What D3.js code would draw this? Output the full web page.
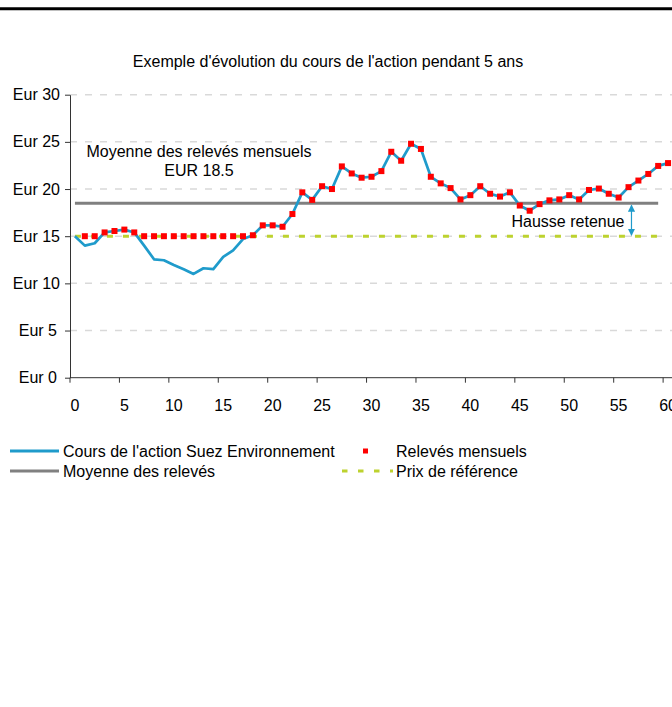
<!DOCTYPE html>
<html>
<head>
<meta charset="utf-8">
<script src="https://cdn.jsdelivr.net/npm/d3@7"></script>
<style>
  body { margin: 0; background: #fff; }
  svg { display: block; font-family: "Liberation Sans", Arial, sans-serif; }
</style>
</head>
<body>
<svg id="chart"></svg>
<script>
// cours de l'action, mois 0..60
const cours = [15.0, 14.0, 14.25, 15.4, 15.55, 15.7, 15.4, 14.0, 12.55, 12.45,
  11.95, 11.5, 11.0, 11.6, 11.5, 12.8, 13.5, 14.7, 15.1, 16.15,
  16.15, 16.0, 17.35, 19.65, 18.85, 20.3, 20.0, 22.4, 21.65, 21.2,
  21.3, 21.9, 23.95, 23.0, 24.8, 24.25, 21.3, 20.6, 20.1, 18.9,
  19.35, 20.3, 19.5, 19.2, 19.65, 18.25, 17.7, 18.4, 18.8, 18.9,
  19.35, 18.9, 19.9, 20.05, 19.5, 19.1, 20.2, 20.9, 21.6, 22.45, 22.75];

// relevés mensuels, mois 1..60
const releves = [15.0, 15.0, 15.4, 15.55, 15.7, 15.4, 15.0, 15.0, 15.0, 15.0,
  15.0, 15.0, 15.0, 15.0, 15.0, 15.0, 15.0, 15.1, 16.15, 16.15,
  16.0, 17.35, 19.65, 18.85, 20.3, 20.0, 22.4, 21.65, 21.2, 21.3,
  21.9, 23.95, 23.0, 24.8, 24.25, 21.3, 20.6, 20.1, 18.9, 19.35,
  20.3, 19.5, 19.2, 19.65, 18.25, 17.7, 18.4, 18.8, 18.9, 19.35,
  18.9, 19.9, 20.05, 19.5, 19.1, 20.2, 20.9, 21.6, 22.45, 22.75];

const moyenne = 18.5;
const prixReference = 15;
const moisLignes = d3.range(0, 60); // moyenne & prix de référence
const yTicks = [0, 5, 10, 15, 20, 25, 30];
const xLabels = d3.range(0, 61, 5);

const width = 672, height = 707;
const svg = d3.select("#chart").attr("width", width).attr("height", height);

const x = d3.scaleBand().domain(d3.range(0, 61)).range([70, 673]).padding(0);
const cx = i => x(i) + x.bandwidth() / 2;
const y = d3.scaleLinear().domain([0, 30]).range([377.7, 94.7]);

// top rule
svg.append("line")
  .attr("x1", 0).attr("x2", width).attr("y1", 8.8).attr("y2", 8.8)
  .attr("stroke", "#000").attr("stroke-width", 3);

svg.append("text")
  .attr("x", 328).attr("y", 61).attr("dy", "0.35em")
  .attr("text-anchor", "middle").attr("font-size", 16)
  .text("Exemple d'évolution du cours de l'action pendant 5 ans");

// gridlines
svg.append("g").selectAll("line")
  .data(yTicks.filter(d => d > 0))
  .join("line")
  .attr("x1", 70).attr("x2", width)
  .attr("y1", d => y(d)).attr("y2", d => y(d))
  .attr("stroke", "#d9d9d9").attr("stroke-width", 1.5)
  .attr("stroke-dasharray", "7,8");

// y axis
const yAxis = svg.append("g")
  .attr("transform", "translate(70,0)")
  .call(d3.axisLeft(y).tickValues(yTicks).tickFormat(d => "Eur " + d)
    .tickSizeInner(5).tickSizeOuter(0).tickPadding(5));
yAxis.select(".domain").attr("stroke", "#333");
yAxis.selectAll(".tick line").attr("stroke", "#333");
yAxis.selectAll("text").attr("font-size", 16).attr("fill", "#000")
  .attr("font-family", "Liberation Sans, Arial, sans-serif")
  .attr("dx", d => d < 10 ? -3 : 0);

// x axis
const xAxis = svg.append("g");
xAxis.append("line")
  .attr("x1", 70).attr("x2", width).attr("y1", y(0)).attr("y2", y(0))
  .attr("stroke", "#333");
xAxis.selectAll(".tk").data(xLabels).join("line").attr("class", "tk")
  .attr("x1", d => d !== 60 ? x(d) : x(59) + x.bandwidth())
  .attr("x2", d => d !== 60 ? x(d) : x(59) + x.bandwidth())
  .attr("y1", y(0)).attr("y2", y(0) + 5)
  .attr("stroke", "#333");
xAxis.selectAll("text").data(xLabels).join("text")
  .attr("x", d => cx(d)).attr("y", 405).attr("dy", "0.35em")
  .attr("text-anchor", "middle").attr("font-size", 16)
  .text(d => d);

// prix de référence
const lineH = v => d3.line().x(d => cx(d)).y(() => y(v));
svg.append("path")
  .datum(moisLignes)
  .attr("d", lineH(prixReference))
  .attr("fill", "none").attr("stroke", "#bdd22f").attr("stroke-width", 3)
  .attr("stroke-dasharray", "6,10");

// moyenne
svg.append("path")
  .datum(moisLignes)
  .attr("d", lineH(moyenne))
  .attr("fill", "none").attr("stroke", "#808080").attr("stroke-width", 3);

// cours
svg.append("path")
  .datum(cours)
  .attr("d", d3.line().x((d, i) => cx(i)).y(d => y(d)))
  .attr("fill", "none").attr("stroke", "#1f9bcb").attr("stroke-width", 2.7)
  .attr("stroke-linejoin", "round");

// relevés
const sq = 6;
svg.append("g").selectAll("rect")
  .data(releves)
  .join("rect")
  .attr("x", (d, i) => cx(i + 1) - sq / 2)
  .attr("y", d => y(d) - sq / 2)
  .attr("width", sq).attr("height", sq)
  .attr("fill", "#ff0000");

// annotations
svg.append("text")
  .attr("x", 199).attr("y", 151).attr("dy", "0.35em")
  .attr("text-anchor", "middle").attr("font-size", 16)
  .text("Moyenne des relevés mensuels");
svg.append("text")
  .attr("x", 199).attr("y", 170).attr("dy", "0.35em")
  .attr("text-anchor", "middle").attr("font-size", 16)
  .text("EUR " + moyenne);
svg.append("text")
  .attr("x", 568).attr("y", 221).attr("dy", "0.35em")
  .attr("text-anchor", "middle").attr("font-size", 16)
  .text("Hausse retenue");

// double arrow
const defs = svg.append("defs");
defs.append("marker")
  .attr("id", "arr").attr("viewBox", "0 0 10 10")
  .attr("refX", 9).attr("refY", 5)
  .attr("markerWidth", 6).attr("markerHeight", 6)
  .attr("orient", "auto-start-reverse")
  .append("path").attr("d", "M0,0L10,5L0,10Z").attr("fill", "#1f9bcb");
const ax = x(56) + x.bandwidth() * 0.8;
svg.append("line")
  .attr("x1", ax).attr("x2", ax)
  .attr("y1", y(moyenne) + 2).attr("y2", y(prixReference) - 1)
  .attr("stroke", "#1f9bcb").attr("stroke-width", 1.2)
  .attr("marker-start", "url(#arr)").attr("marker-end", "url(#arr)");

// legend
const legend = svg.append("g").attr("font-size", 16);
legend.append("line").attr("x1", 10).attr("x2", 59).attr("y1", 451).attr("y2", 451)
  .attr("stroke", "#1f9bcb").attr("stroke-width", 3);
legend.append("text").attr("x", 63).attr("y", 451).attr("dy", "0.35em")
  .text("Cours de l'action Suez Environnement");
legend.append("rect").attr("x", 363).attr("y", 448.5).attr("width", 5).attr("height", 5)
  .attr("fill", "#ff0000");
legend.append("text").attr("x", 396).attr("y", 451).attr("dy", "0.35em")
  .text("Relevés mensuels");
legend.append("line").attr("x1", 10).attr("x2", 59).attr("y1", 471).attr("y2", 471)
  .attr("stroke", "#808080").attr("stroke-width", 3);
legend.append("text").attr("x", 63).attr("y", 471).attr("dy", "0.35em")
  .text("Moyenne des relevés");
legend.append("line").attr("x1", 342).attr("x2", 393).attr("y1", 471).attr("y2", 471)
  .attr("stroke", "#bdd22f").attr("stroke-width", 3).attr("stroke-dasharray", "5.5,10.5");
legend.append("text").attr("x", 396).attr("y", 471).attr("dy", "0.35em")
  .text("Prix de référence");
</script>
</body>
</html>
